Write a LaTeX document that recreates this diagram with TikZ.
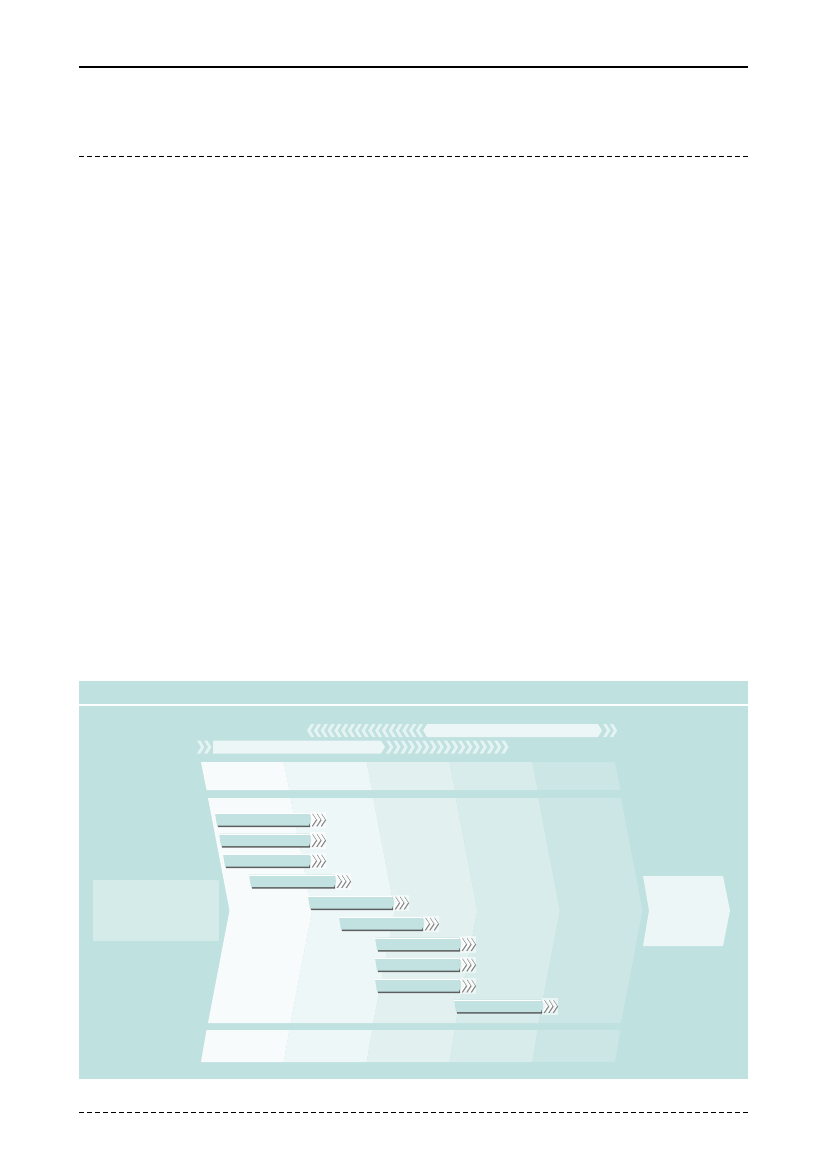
\documentclass[tikz,border=0pt]{standalone}
\usetikzlibrary{positioning}

\definecolor{panelfill}{HTML}{BFE1E0}
\definecolor{colA}{HTML}{F8FBFB}
\definecolor{colB}{HTML}{EEF7F7}
\definecolor{colC}{HTML}{E2F1F0}
\definecolor{colD}{HTML}{D7ECEB}
\definecolor{colE}{HTML}{CCE6E6}
\definecolor{infill}{HTML}{D5EBEA}
\definecolor{outfill}{HTML}{ECF6F6}
\definecolor{trackfill}{HTML}{EDF6F6}
\definecolor{chevfill}{HTML}{E6F3F3}
\definecolor{barfill}{HTML}{C2E2E1}
\definecolor{barshade}{HTML}{5C5E5E}

\begin{document}
\begin{tikzpicture}[x=1pt,y=-1pt,
                    rule/.style={line width=1.4pt},
                    cut line/.style={line width=0.9pt,dash pattern=on 5pt off 3pt},
                    track/.style={fill=trackfill},
                    chev/.style={fill=chevfill},
                    bar body/.style={fill=barfill},
                    bar shade/.style={fill=barshade},
                    tip shade/.style={line width=1.8pt,barshade!75,line join=miter},
                    tip line/.style={line width=1.6pt,white,line join=miter}
]
\useasboundingbox (0,0) rectangle (827,1169);

% page rules
\draw[rule] (79,67) -- (748,67);
\draw[cut line] (79,156) -- (748,156);
\draw[cut line] (79,1112) -- (748,1112);

% panel
\fill[panelfill] (79,681) rectangle (748,1079);
\draw[white,line width=2.8pt] (79,705) -- (748,705);

% phase columns: header, body, footer
\foreach \c [count=\i from 0] in {colA,colB,colC,colD,colE} {
  \fill[\c] (201+82.8*\i,762) -- (283.8+82.8*\i,762) -- (289.3+82.8*\i,790) -- (206.5+82.8*\i,790) -- cycle;
  \fill[\c] (208+82.6*\i,798) -- (290.6+82.6*\i,798) -- (312.1+82.6*\i,910.5)
         -- (290.6+82.6*\i,1023) -- (208+82.6*\i,1023) -- (229.5+82.6*\i,910.5) -- cycle;
  \fill[\c] (206.5+82.8*\i,1030) -- (289.3+82.8*\i,1030) -- (283.8+82.8*\i,1062) -- (201+82.8*\i,1062) -- cycle;
}

% input and output
\node[fill=infill,inner sep=0pt,minimum width=126pt,minimum height=61pt,anchor=north west] (input) at (93,880) {};
\fill[outfill] (643,876) coordinate (output) -- (723,876) -- (730,910.5) -- (723,946) -- (643,946) -- (649,910.5) -- cycle;

% upper track, running back
\foreach \k in {0,...,16}
  \fill[chev] (307+6.8*\k,730.5) -- ++(4,-6.5) -- ++(3.4,0) -- ++(-4,6.5) -- ++(4,6.5) -- ++(-3.4,0) -- cycle;
\fill[track] (423,730.5) -- (427,724) -- (598,724) -- (602,730.5) -- (598,737) -- (427,737) -- cycle;
\foreach \k in {0,1}
  \fill[chev] (603+6.8*\k,724) -- ++(3.4,0) -- ++(4,6.5) -- ++(-4,6.5) -- ++(-3.4,0) -- ++(4,-6.5) -- cycle;

% lower track, running forward
\foreach \k in {0,1}
  \fill[chev] (197+7*\k,740.5) -- ++(3.4,0) -- ++(4,6.5) -- ++(-4,6.5) -- ++(-3.4,0) -- ++(4,-6.5) -- cycle;
\fill[track] (213,740.5) -- (381,740.5) -- (385,747) -- (381,753.5) -- (213,753.5) -- cycle;
\foreach \k in {0,...,16}
  \fill[chev] (386+7.2*\k,740.5) -- ++(3.4,0) -- ++(4,6.5) -- ++(-4,6.5) -- ++(-3.4,0) -- ++(4,-6.5) -- cycle;

% task bars
\foreach \xa/\xb/\ya in {215/309/813, 219/309/833.5, 223/309/854, 249/334/874.5, 308/392/896,
                         339/422/917, 375/459/937.5, 375/459/958, 375/459/979, 454/541/999.5} {
  \fill[white,opacity=0.55] (\xb+1,\ya-1.5) rectangle (\xb+17,\ya+15);
  \fill[bar shade] (\xa+1,\ya+2) -- (\xb+1,\ya+2) -- (\xb+1,\ya+14) -- (\xa+3,\ya+14) -- cycle;
  \fill[bar body] (\xa,\ya) -- (\xb,\ya) -- (\xb+2,\ya+6.5) -- (\xb,\ya+12.5) -- (\xa+2,\ya+12.5) -- cycle;
  \draw[white,line width=0.6pt] (\xa+0.2,\ya+0.3) -- (\xb,\ya+0.3);
  \foreach \k in {0,1,2} {
    \draw[tip shade] (\xb+3+4.5*\k,\ya+1.2) -- ++(4,6) -- ++(-4,6);
    \draw[tip line] (\xb+2+4.5*\k,\ya+0.6) -- ++(4,6) -- ++(-4,6);
  }
}
\end{tikzpicture}
\end{document}
